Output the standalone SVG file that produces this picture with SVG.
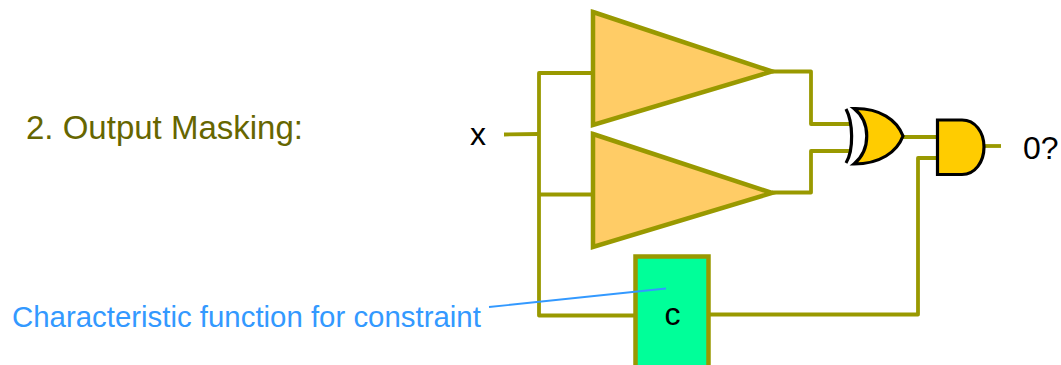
<svg xmlns="http://www.w3.org/2000/svg" width="1061" height="365" viewBox="0 0 1061 365">
<style>
.w{fill:none;stroke:#999900;stroke-width:3.800;stroke-linejoin:round;stroke-linecap:butt}
.t{font-family:"Liberation Sans",Arial,sans-serif;font-size:32px;fill:#000}
.tri{fill:#FFCC66;stroke:#999900;stroke-width:4.500;stroke-linejoin:miter}
.gate{fill:#FFCC00;stroke:#000;stroke-width:3.200;stroke-linejoin:miter}
</style>
<rect width="1061" height="365" fill="#fff"/>
<g id="connectors">
<path class="w" d="M504 134.500L539 134"/>
<path class="w" d="M592 73H539V315.500H636"/>
<path class="w" d="M539 194.500H592"/>
<path class="w" d="M772 71.500H811V124H850"/>
<path class="w" d="M772 192.500H811V151H850"/>
<path class="w" d="M903 137H937"/>
<path class="w" d="M709 314.500H918V158H937"/>
<path class="w" d="M984 146H1001"/>
</g>
<g id="buffer-top"><polygon class="tri" points="593,12 772,71.500 593,125"/></g>
<g id="buffer-bottom"><polygon class="tri" points="593,134 772,193 593,247"/></g>
<g id="xor-gate">
<path d="M846 109C853 122 854 150 846 163" fill="none" stroke="#000" stroke-width="3.200"/>
<path class="gate" d="M854 108.500C880 108 897 120 903 136C897 152 880 164 854 164C871 150 871 122 854 108.500Z"/>
</g>
<g id="and-gate"><path class="gate" d="M937.500 120H962C975 120 984 132 984 147C984 162 975 174.500 962 174.500H937.500Z"/></g>
<g id="constraint">
<rect x="635.500" y="256.500" width="73" height="112" fill="#00FF99" stroke="#999900" stroke-width="4.500"/>
<text class="t" x="672.500" y="325" text-anchor="middle">c</text>
</g>
<g id="label-leader">
<line x1="489" y1="307" x2="666" y2="288.500" stroke="#3399FF" stroke-width="1.800"/>
<text x="12" y="327" font-family="Liberation Sans,Arial,sans-serif" font-size="29.400" fill="#3399FF">Characteristic function for constraint</text>
</g>
<text x="26" y="139" font-family="Liberation Sans,Arial,sans-serif" font-size="33" fill="#666600">2. Output Masking:</text>
<text class="t" x="470" y="144.500">x</text>
<text class="t" x="1023" y="158.500">0?</text>
</svg>
